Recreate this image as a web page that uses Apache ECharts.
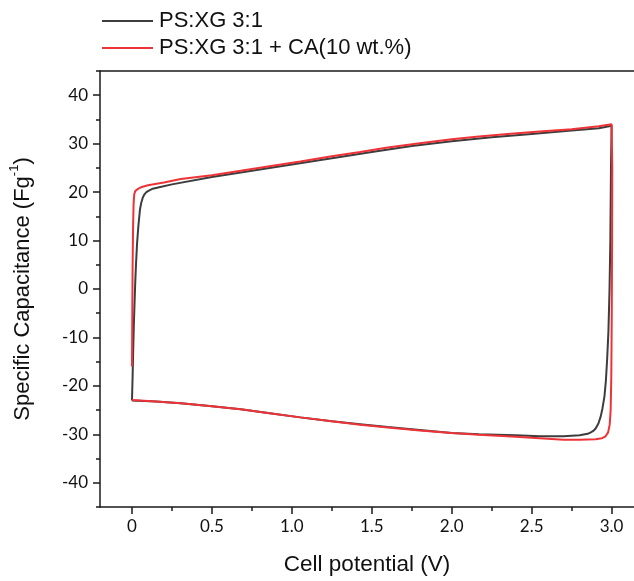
<!DOCTYPE html>
<html><head><meta charset="utf-8">
<script src="https://cdn.jsdelivr.net/npm/echarts@6/dist/echarts.min.js"></script>
<style>html,body{margin:0;padding:0;background:#fff}#c{width:634px;height:581px}</style>
</head><body><div id="c"></div>
<script>
const seriesNames = ['PS:XG 3:1', 'PS:XG 3:1 + CA(10 wt.%)'];
// PS:XG 3:1 (black) — forward scan then reverse scan
const blackX = [0, 0.004, 0.008, 0.012, 0.015, 0.02, 0.025, 0.032, 0.04, 0.05, 0.058, 0.067, 0.077, 0.09, 0.106, 0.13, 0.17, 0.25, 0.5, 0.75, 1.0, 1.25, 1.5, 1.75, 2.0, 2.25, 2.5, 2.75, 2.92, 3.0,
  2.996, 2.992, 2.987, 2.98, 2.972, 2.964, 2.955, 2.943, 2.932, 2.918, 2.9, 2.885, 2.87, 2.85, 2.8, 2.7, 2.55, 2.4, 2.17, 2.0, 1.8, 1.6, 1.427, 1.25, 1.053, 0.85, 0.68, 0.5, 0.305, 0.15, 0];
const blackY = [-23, -18, -12, -7, -4, 1, 5, 9.5, 13, 16.4, 17.8, 18.8, 19.5, 20.0, 20.3, 20.7, 21.0, 21.6, 23.1, 24.4, 25.7, 27.0, 28.3, 29.5, 30.5, 31.3, 32.0, 32.7, 33.2, 33.7,
  25, 10, 0, -8.8, -14.5, -19, -22.2, -24.6, -26.3, -27.7, -28.8, -29.3, -29.6, -29.9, -30.2, -30.4, -30.4, -30.2, -30.0, -29.7, -29.1, -28.5, -27.9, -27.3, -26.5, -25.6, -24.8, -24.2, -23.6, -23.2, -23.0];
// PS:XG 3:1 + CA(10 wt.%) (red)
const redX = [0, 0.002, 0.004, 0.007, 0.01, 0.014, 0.02, 0.035, 0.056, 0.1, 0.2, 0.305, 0.5, 0.68, 0.85, 1.053, 1.25, 1.427, 1.6, 1.8, 2.0, 2.17, 2.35, 2.55, 2.75, 2.92, 3.0,
  3.004, 3.003, 3.001, 2.998, 2.994, 2.988, 2.978, 2.962, 2.94, 2.9, 2.8, 2.7, 2.55, 2.4, 2.17, 2.0, 1.8, 1.6, 1.427, 1.25, 1.053, 0.85, 0.68, 0.5, 0.305, 0.15, 0];
const redY = [-16, -5, 5, 13, 17.5, 19.5, 20.2, 20.6, 21.0, 21.4, 22.0, 22.7, 23.5, 24.4, 25.3, 26.3, 27.4, 28.3, 29.2, 30.1, 30.9, 31.5, 32.0, 32.5, 33.0, 33.6, 34.0,
  25, 10, -5, -18, -25, -28, -29.6, -30.4, -30.8, -31.0, -31.1, -31.1, -30.8, -30.5, -30.1, -29.7, -29.2, -28.6, -28.0, -27.3, -26.5, -25.6, -24.8, -24.2, -23.6, -23.2, -22.9];
const xMajorTicks = [0, 0.5, 1.0, 1.5, 2.0, 2.5, 3.0];
const xMinorTicks = [0.25, 0.75, 1.25, 1.75, 2.25, 2.75];
const yMajorTicks = [-40, -30, -20, -10, 0, 10, 20, 30, 40];
const yMinorTicks = [-45, -35, -25, -15, -5, 5, 15, 25, 35, 45];

const zip = (xs, ys) => xs.map((x, i) => [x, ys[i]]);
const AX = '#1a1a1a';
const TICKFONT = {fontFamily: 'Lato', fontSize: 17, color: '#111'};
const TITLEFONT = 'Liberation Sans';
const COLORS = ['#3d3d3d', '#ee3338'];

const chart = echarts.init(document.getElementById('c'), null, {renderer: 'canvas'});
const xBase = {type: 'value', min: -0.2, max: 3.14, gridIndex: 0, splitLine: {show: false}};
const yBase = {type: 'value', min: -45, max: 45, gridIndex: 0, splitLine: {show: false}};
chart.setOption({
  animation: false,
  backgroundColor: '#fff',
  color: COLORS,
  grid: {left: 99, right: 0, top: 71, bottom: 72, containLabel: false},
  legend: {
    show: true, orient: 'vertical', left: 97, top: 5, itemWidth: 51, itemHeight: 2, itemGap: 5,
    icon: 'rect',
    textStyle: {fontFamily: TITLEFONT, fontSize: 22, color: '#111', padding: [0, 0, 0, 1]},
    data: seriesNames
  },
  xAxis: [
    Object.assign({}, xBase, {
      position: 'bottom',
      axisLine: {show: true, onZero: false, lineStyle: {color: AX, width: 1.5}},
      axisTick: {show: true, inside: false, length: 7, customValues: xMajorTicks, lineStyle: {color: AX, width: 1.5}},
      axisLabel: {show: true, margin: 11, customValues: xMajorTicks, formatter: v => v === 0 ? '0' : v.toFixed(1), ...TICKFONT},
      name: 'Cell potential (V)', nameLocation: 'middle', nameGap: 46,
      nameTextStyle: {fontFamily: TITLEFONT, fontSize: 22.5, color: '#111'}
    }),
    Object.assign({}, xBase, {
      position: 'bottom',
      axisLine: {show: false, onZero: false},
      axisTick: {show: true, inside: false, length: 4, customValues: xMinorTicks, lineStyle: {color: AX, width: 1.5}},
      axisLabel: {show: false}
    }),
    Object.assign({}, xBase, {
      position: 'top',
      axisLine: {show: true, onZero: false, lineStyle: {color: AX, width: 1.5}},
      axisTick: {show: false}, axisLabel: {show: false}
    })
  ],
  yAxis: [
    Object.assign({}, yBase, {
      position: 'left',
      axisLine: {show: true, onZero: false, lineStyle: {color: AX, width: 1.5}},
      axisTick: {show: true, inside: false, length: 7, customValues: yMajorTicks, lineStyle: {color: AX, width: 1.5}},
      axisLabel: {show: true, margin: 12, customValues: yMajorTicks, ...TICKFONT},
      name: '{a|Specific Capacitance (Fg}{s|-1}{a|)}', nameLocation: 'middle', nameGap: 66,
      nameTextStyle: {
        rich: {
          a: {fontFamily: TITLEFONT, fontSize: 22, color: '#111', lineHeight: 26, verticalAlign: 'bottom'},
          s: {fontFamily: TITLEFONT, fontSize: 13, color: '#111', lineHeight: 26, verticalAlign: 'top', padding: [0, 0, 8, 0]}
        }
      }
    }),
    Object.assign({}, yBase, {
      position: 'left',
      axisLine: {show: false, onZero: false},
      axisTick: {show: true, inside: false, length: 4, customValues: yMinorTicks, lineStyle: {color: AX, width: 1.5}},
      axisLabel: {show: false}
    })
  ],
  series: [
    {name: seriesNames[0], type: 'line', xAxisIndex: 0, yAxisIndex: 0, symbol: 'none', showSymbol: false,
     lineStyle: {color: COLORS[0], width: 2}, itemStyle: {color: COLORS[0]}, data: zip(blackX, blackY), z: 2},
    {name: seriesNames[1], type: 'line', xAxisIndex: 0, yAxisIndex: 0, symbol: 'none', showSymbol: false,
     lineStyle: {color: COLORS[1], width: 2}, itemStyle: {color: COLORS[1]}, data: zip(redX, redY), z: 3}
  ]
});
</script></body></html>
